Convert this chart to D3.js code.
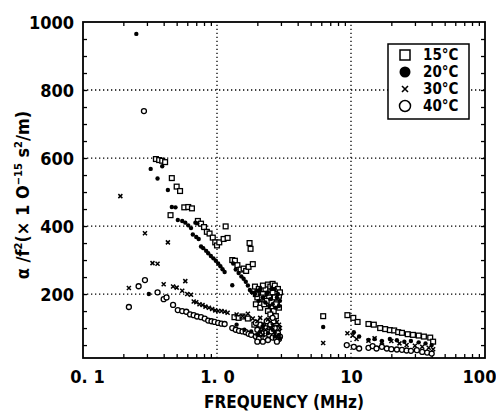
<!DOCTYPE html>
<html>
<head>
<meta charset="utf-8">
<script src="https://cdn.jsdelivr.net/npm/d3@7"></script>
<style>
  body { margin: 0; background: #fff; }
  svg text { font-family: "DejaVu Sans Condensed", "Liberation Sans Narrow", sans-serif; font-weight: bold; fill: #000; }
</style>
</head>
<body>
<svg id="chart" width="496" height="414"></svg>
<script>
// [frequency MHz, alpha/f^2]
const t15 = [
  [0.35,597],[0.37,594],[0.39,592],[0.41,588],[0.46,541],[0.50,516],[0.53,503],[0.45,432],
  [0.57,455],[0.61,456],[0.65,452],[0.72,415],[0.76,407],[0.80,397],[0.84,383],[0.88,378],
  [0.93,366],[0.97,352],[1.00,343],[1.04,352],[1.16,399],[1.12,362],[1.20,365],
  [1.30,300],[1.36,298],[1.42,285],[1.50,272],[1.58,275],[1.65,268],[1.72,280],[1.85,288],
  [1.75,350],[1.78,333],[1.92,222],[2.0,205],[2.08,185],[1.95,170],[2.1,160],[2.2,200],
  [2.3,215],[2.4,228],[2.5,222],[2.6,205],[2.7,190],[2.8,175],[2.9,195],[2.55,160],
  [2.65,150],[2.75,135],[2.2,225],[2.45,190],[2.05,215],[2.15,190],[2.25,170],[2.35,180],
  [2.6,230],[2.7,225],[2.85,215],[2.95,205],[2.9,160],[2.4,150],[2.0,190],[1.95,200],
  [2.75,170],[2.5,140],[1.35,132],[1.45,130],[1.55,134],[1.7,128],
  [1.9,110],[2.1,98],[2.5,112],[2.8,88],[2.2,105],[2.65,120],[2.85,100],[2.0,75],[2.3,70],
  [6.2,135],[9.4,138],[10.4,130],[11.2,118],
  [13.5,112],[14.8,110],[16.5,100],[18.0,97],[19.5,94],[21.0,93],[22.5,88],[24.0,86],
  [26.5,82],[29.0,80],[32.0,78],[35.0,75],[39.0,72],[41.0,60]
];
const t20 = [
  [0.25,965],[0.32,568],[0.36,540],[0.39,576],[0.43,506],[0.46,456],[0.49,455],
  [0.51,418],[0.55,415],[0.58,410],[0.61,402],[0.64,394],[0.69,410],[0.71,408],
  [0.66,375],[0.70,368],[0.73,362],[0.76,340],[0.79,335],[0.83,327],[0.86,320],
  [0.90,312],[0.94,305],[0.98,298],[1.02,290],[1.06,282],[1.10,273],[1.14,265],
  [1.30,226],[1.32,290],[1.38,272],[1.45,262],[1.52,252],[1.58,245],[1.64,236],
  [1.70,225],[1.76,212],[1.82,205],[1.92,200],[2.0,210],[2.1,215],[2.2,190],[2.3,175],
  [2.4,205],[2.5,185],[2.6,170],[2.7,215],[2.85,200],[2.95,180],[0.31,200],
  [2.05,180],[2.35,200],[2.55,215],[2.8,190],[2.9,165],[2.45,165],[2.75,160],
  [1.4,110],[1.6,95],[1.8,90],[2.0,80],[2.2,105],[2.6,95],[2.9,80],
  [2.1,90],[2.4,85],[2.7,75],[2.95,70],[6.2,103],
  [10.5,88],[11.5,75],[13.5,65],[15,68],[17,62],[19.5,68],[22,64],[25,60],[28,62],
  [32,58],[36,55],[40,50]
];
const t30 = [
  [0.19,488],[0.22,218],[0.29,379],[0.33,291],[0.36,289],[0.43,352],[0.40,229],
  [0.47,222],[0.50,219],[0.58,238],[0.55,210],[0.60,200],[0.64,198],[0.67,178],
  [0.70,176],[0.74,170],[0.78,168],[0.82,163],[0.87,160],[0.92,156],[0.97,152],
  [1.02,150],[1.08,150],[1.14,148],[1.20,145],[1.40,140],[1.55,135],[1.70,142],
  [1.85,128],[2.0,120],[2.2,112],[2.4,125],[2.6,108],[2.8,118],[2.95,100],[2.3,95],
  [2.7,90],[2.1,130],[2.5,100],[2.9,110],[2.2,80],[6.2,56],[9.4,85],[10.3,78],[11,68],
  [13.5,63],[15,70],[17,58],[20,62],[23,55],[26,50],[30,48],[34,45],[38,42],[41,38]
];
const t40 = [
  [0.22,162],[0.26,223],[0.29,241],[0.285,738],[0.36,205],[0.40,185],[0.42,190],
  [0.47,168],[0.51,153],[0.55,150],[0.59,148],[0.63,140],[0.67,138],[0.71,134],
  [0.76,132],[0.81,128],[0.86,122],[0.91,120],[0.96,118],[1.02,115],[1.08,113],
  [1.14,112],[1.30,100],[1.38,95],[1.46,92],[1.55,90],[1.64,88],[1.72,83],[1.80,80],
  [1.95,75],[2.05,68],[2.15,85],[2.3,100],[2.45,80],[2.6,72],[2.75,70],[2.9,68],
  [2.2,60],[2.5,110],[2.0,95],[2.1,110],[2.35,120],[2.55,90],[2.7,100],[2.85,85],
  [2.95,75],[2.4,65],[2.8,60],[1.95,115],[2.6,130],[2.0,60],
  [9.3,50],[10.5,45],[11.5,40],[13.5,42],[14.5,47],[15.5,40],
  [17,45],[18.5,40],[20,38],[22,37],[24,36],[26,34],[28,33],[31,35],[34,30],[37,28],[40,25]
];

const xTicks = [0.1, 1, 10, 100];
const xTickLabels = ["0. 1", "1. 0", "10", "100"];
const yTicks = [200, 400, 600, 800, 1000];
const legendLabels = ["15\u00b0C", "20\u00b0C", "30\u00b0C", "40\u00b0C"];

const svg = d3.select("#chart");
const margin = { top: 22, right: 11, bottom: 56, left: 83 };
const width = 496, height = 414;

const x = d3.scaleLog().domain([0.1, 100]).range([margin.left, width - margin.right]);
const y = d3.scaleLinear().domain([12, 1000]).range([height - margin.bottom, margin.top]);

const x0 = x.range()[0], x1 = x.range()[1], y0 = y.range()[0], y1 = y.range()[1];

// grid
const grid = svg.append("g").attr("stroke", "#000").attr("stroke-width", 1.3).attr("stroke-dasharray", "1.3,2.7");
grid.selectAll("line.gy").data([200, 400, 600, 800]).join("line")
  .attr("x1", x0).attr("x2", x1).attr("y1", d => y(d)).attr("y2", d => y(d));
grid.selectAll("line.gx").data([1, 10]).join("line")
  .attr("y1", y0).attr("y2", y1).attr("x1", d => x(d)).attr("x2", d => x(d));

// minor ticks
const minorX = [];
[0.1, 1, 10].forEach(b => { for (let k = 2; k <= 9; k++) minorX.push(b * k); });
const minorY = d3.range(50, 1000, 50);

svg.append("g").attr("transform", `translate(0,${y0})`)
  .call(d3.axisBottom(x).tickValues(minorX).tickSize(-4).tickFormat(""))
  .call(g => g.select(".domain").remove());
svg.append("g").attr("transform", `translate(0,${y1})`)
  .call(d3.axisTop(x).tickValues(minorX).tickSize(-4).tickFormat(""))
  .call(g => g.select(".domain").remove());
svg.append("g").attr("transform", `translate(${x0},0)`)
  .call(d3.axisLeft(y).tickValues(minorY).tickSize(-4).tickFormat(""))
  .call(g => g.select(".domain").remove());
svg.append("g").attr("transform", `translate(${x1},0)`)
  .call(d3.axisRight(y).tickValues(minorY).tickSize(-4).tickFormat(""))
  .call(g => g.select(".domain").remove());
svg.selectAll(".tick line").attr("stroke-width", 1.3);

// labelled axes
const xAxis = svg.append("g").attr("transform", `translate(0,${y0})`)
  .call(d3.axisBottom(x).tickValues(xTicks).tickSize(0).tickPadding(12)
    .tickFormat((d, i) => xTickLabels[i]));
xAxis.select(".domain").remove();
xAxis.selectAll("text").style("font-size", "18px")
  .attr("dx", (d, i) => [4, 0, 0, -6][i]);

const yAxis = svg.append("g").attr("transform", `translate(${x0},0)`)
  .call(d3.axisLeft(y).tickValues(yTicks).tickSize(0).tickPadding(9).tickFormat(d3.format("d")));
yAxis.select(".domain").remove();
yAxis.selectAll("text").style("font-size", "18px").attr("dy", "0.36em");

// frame
svg.append("rect").attr("x", x0).attr("y", y1).attr("width", x1 - x0).attr("height", y0 - y1)
  .attr("fill", "none").attr("stroke", "#000").attr("stroke-width", 1.8);

// data
const plot = svg.append("g").attr("stroke", "#000").attr("stroke-width", 1.3);
plot.selectAll("rect.s15").data(t15).join("rect")
  .attr("x", d => x(d[0]) - 2.4).attr("y", d => y(d[1]) - 2.4)
  .attr("width", 4.8).attr("height", 4.8).attr("fill", "#fff");
plot.selectAll("circle.s40").data(t40).join("circle")
  .attr("cx", d => x(d[0])).attr("cy", d => y(d[1])).attr("r", 2.5).attr("fill", "#fff");
plot.selectAll("circle.s20").data(t20).join("circle")
  .attr("cx", d => x(d[0])).attr("cy", d => y(d[1])).attr("r", 2.2).attr("fill", "#000").attr("stroke", "none");
plot.selectAll("path.s30").data(t30).join("path")
  .attr("d", d => { const cx = x(d[0]), cy = y(d[1]), r = 2; return `M${cx - r},${cy - r}L${cx + r},${cy + r}M${cx - r},${cy + r}L${cx + r},${cy - r}`; })
  .attr("stroke-width", 1.5);

// legend
const lg = svg.append("g").attr("transform", "translate(388,44)");
lg.append("rect").attr("width", 81).attr("height", 75).attr("fill", "#fff").attr("stroke", "#000").attr("stroke-width", 1.5);
const rowY = [11, 28, 45, 62];
const sx = 17;
lg.append("rect").attr("x", sx - 5).attr("y", rowY[0] - 5).attr("width", 10).attr("height", 10)
  .attr("fill", "#fff").attr("stroke", "#000").attr("stroke-width", 1.5);
lg.append("circle").attr("cx", sx).attr("cy", rowY[1]).attr("r", 5.5).attr("fill", "#000");
lg.append("path").attr("d", `M${sx - 3},${rowY[2] - 3}L${sx + 3},${rowY[2] + 3}M${sx - 3},${rowY[2] + 3}L${sx + 3},${rowY[2] - 3}`)
  .attr("stroke", "#000").attr("stroke-width", 1.6);
lg.append("circle").attr("cx", sx).attr("cy", rowY[3]).attr("r", 5.5).attr("fill", "#fff").attr("stroke", "#000").attr("stroke-width", 1.5);
lg.selectAll("text").data(legendLabels).join("text")
  .attr("x", 35).attr("y", (d, i) => rowY[i]).attr("dy", "0.36em")
  .style("font-size", "15px").text(d => d);

// axis titles
svg.append("text").attr("x", 284).attr("y", 408).attr("text-anchor", "middle")
  .style("font-size", "17px").text("FREQUENCY (MHz)");

const yt = svg.append("text").attr("transform", "translate(29,195) rotate(-90)")
  .attr("text-anchor", "middle").style("font-size", "18px");
yt.append("tspan").text("\u03b1 /f");
yt.append("tspan").attr("dy", "-7").style("font-size", "11px").text("2");
yt.append("tspan").attr("dy", "7").text("(\u00d7 1 O");
yt.append("tspan").attr("dy", "-7").style("font-size", "11px").text("\u221215");
yt.append("tspan").attr("dy", "7").text(" s");
yt.append("tspan").attr("dy", "-7").style("font-size", "11px").text("2");
yt.append("tspan").attr("dy", "7").text("/m)");
</script>
</body>
</html>
